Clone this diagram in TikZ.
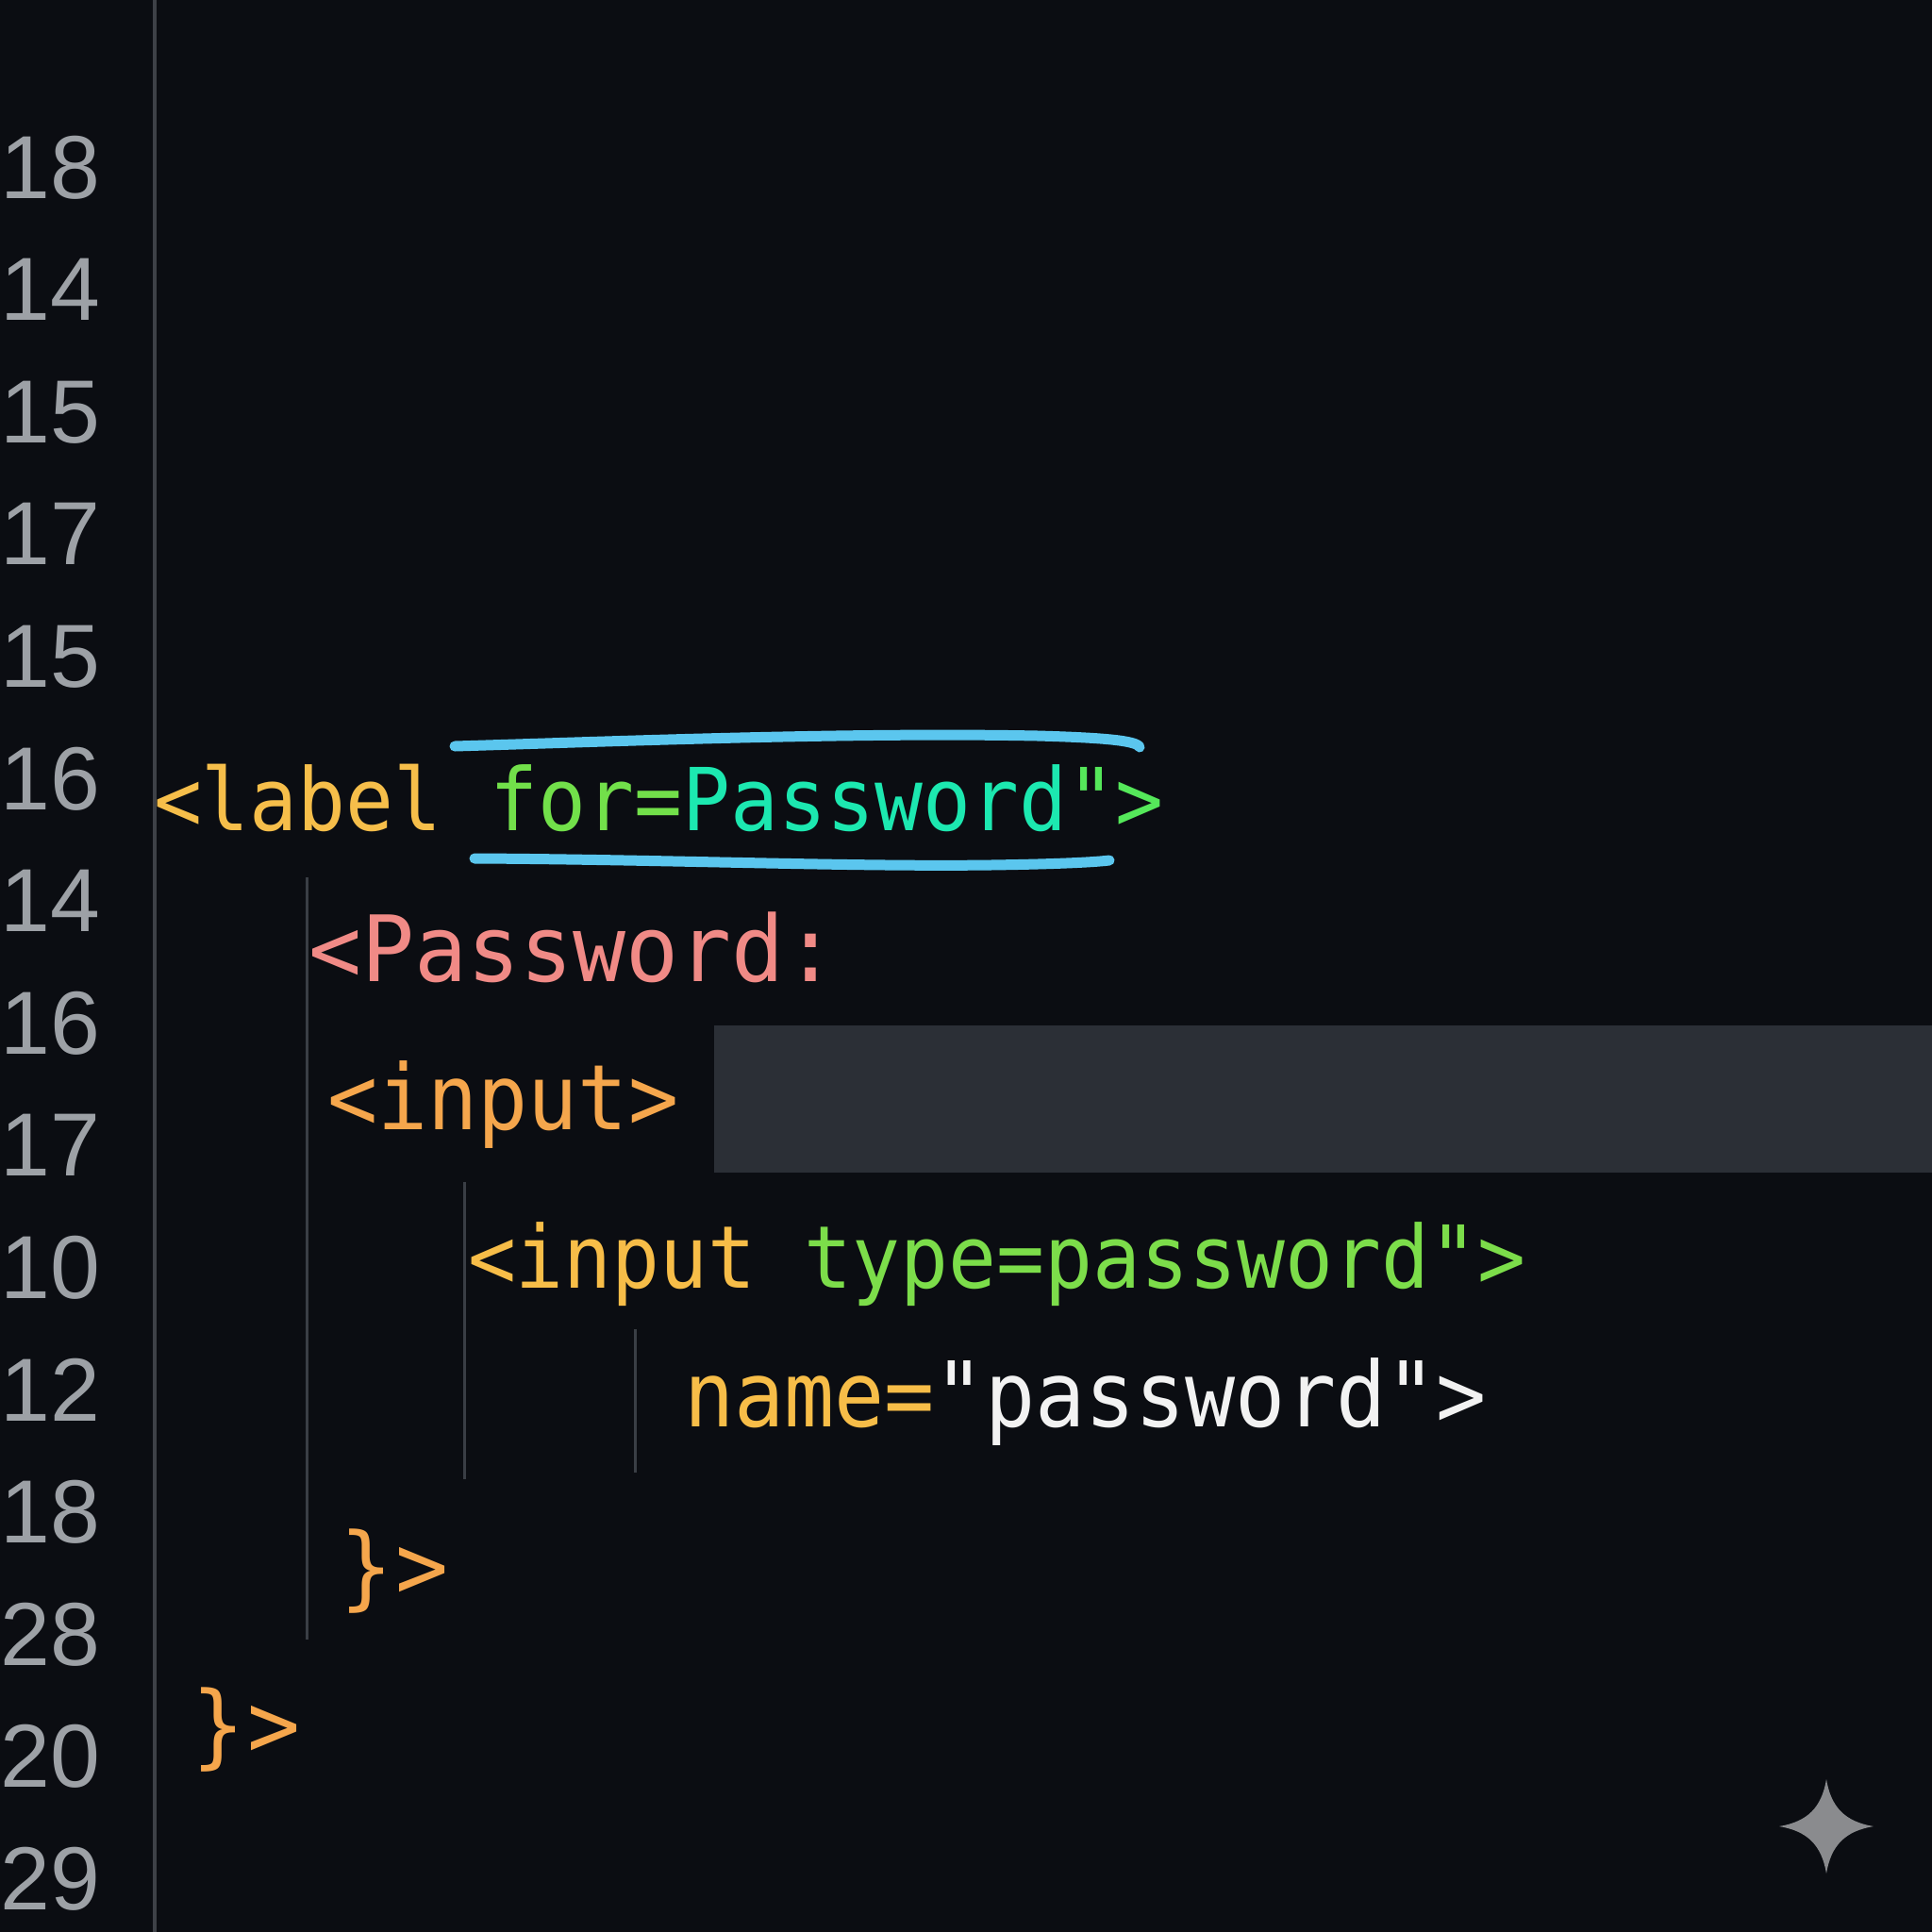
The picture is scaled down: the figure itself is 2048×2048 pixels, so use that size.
\documentclass[tikz,border=0pt]{standalone}
\usepackage{fontspec}
\newfontfamily\codefont{DejaVu Sans Mono}[FakeStretch=0.92]
\newfontfamily\codewide{DejaVu Sans Mono}[FakeStretch=0.96]
\newfontfamily\numfont{Liberation Sans}
\definecolor{bgc}{HTML}{0B0D12}
\definecolor{numc}{HTML}{9DA1A6}
\definecolor{gutterc}{HTML}{3E4147}
\definecolor{guidec}{HTML}{3A3E45}
\definecolor{boxc}{HTML}{2B2F36}
\definecolor{hlc}{HTML}{5BC6EE}
\definecolor{labc}{HTML}{F6BE4A}
\definecolor{forc}{HTML}{72E04A}
\definecolor{tealc}{HTML}{1CE8B0}
\definecolor{grnc}{HTML}{55E85A}
\definecolor{pinkc}{HTML}{F08A86}
\definecolor{orgc}{HTML}{F5A64C}
\definecolor{yelc}{HTML}{F7BD48}
\definecolor{limec}{HTML}{7CDD4A}
\definecolor{whtc}{HTML}{F2F2F2}
\definecolor{starc}{HTML}{8A8B8E}
\tikzset{
  codetext/.style={anchor=base west, inner sep=0pt, outer sep=0pt,
    font=\codefont\fontsize{92}{110}\selectfont},
  codebig/.style={anchor=base west, inner sep=0pt, outer sep=0pt,
    font=\codefont\fontsize{96}{110}\selectfont},
  codewd/.style={anchor=base west, inner sep=0pt, outer sep=0pt,
    font=\codewide\fontsize{97}{110}\selectfont},
  lnum/.style={anchor=base east, inner sep=0pt, outer sep=0pt, text=numc,
    font=\numfont\fontsize{95}{110}\selectfont},
  guide/.style={draw=guidec, line width=3pt},
  hl/.style={draw=hlc, line width=11pt, line cap=round},
}
\begin{document}
\begin{tikzpicture}[x=1pt, y=-1pt]
\useasboundingbox (0,0) rectangle (2048,2048);
\fill[bgc] (0,0) rectangle (2048,2048);
% highlighted box
\fill[boxc] (757,1087) rectangle (2048,1243);
% gutter line
\draw[gutterc, line width=4pt] (164,0) -- (164,2048);
% line numbers
\foreach \n [count=\i from 0] in {18,14,15,17,15,16,14,16,17,10,12,18,28,20,29}
  \node[lnum] (ln\i) at (106, {210+129.6*\i}) {\n};
% indentation guides
\coordinate (g1a) at (325,930);  \coordinate (g1b) at (325,1738);
\coordinate (g2a) at (492,1253); \coordinate (g2b) at (492,1568);
\coordinate (g3a) at (673,1409); \coordinate (g3b) at (673,1561);
\draw[guide] (g1a) -- (g1b);
\draw[guide] (g2a) -- (g2b);
\draw[guide] (g3a) -- (g3b);
% code lines
\node[codetext] (c1) at (163,880) {\textcolor{labc}{<label }\textcolor{forc}{for=}\textcolor{tealc}{Password}\textcolor{grnc}{">}};
\node[codewd] (c2) at (327,1040) {\textcolor{pinkc}{<Password:}};
\node[codebig] (c3) at (347,1197) {\textcolor{orgc}{<input>}};
\node[codetext] (c4) at (496,1365) {\textcolor{yelc}{<input }\textcolor{limec}{type=password">}};
\node[codebig] (c5) at (725,1512) {\textcolor{yelc}{name=}\textcolor{whtc}{"password">}};
\node[codewd] (c6) at (360,1694) {\textcolor{orgc}{\}\kern4pt>}};
\node[codewd] (c7) at (203,1862) {\textcolor{orgc}{\}\kern4pt>}};
% hand-drawn highlight strokes
\draw[hl] (482,791) .. controls (650,786) and (900,776) .. (1100,780) .. controls (1170,782) and (1205,785) .. (1208,792);
\draw[hl] (503,910) .. controls (700,911) and (900,919) .. (1050,917) .. controls (1120,916) and (1160,914) .. (1176,912);
% sparkle
\fill[starc] (1936,1886) .. controls (1941,1916) and (1956,1931) .. (1986,1936)
  .. controls (1956,1941) and (1941,1956) .. (1936,1986)
  .. controls (1931,1956) and (1916,1941) .. (1886,1936)
  .. controls (1916,1931) and (1931,1916) .. cycle;
\end{tikzpicture}
\end{document}
